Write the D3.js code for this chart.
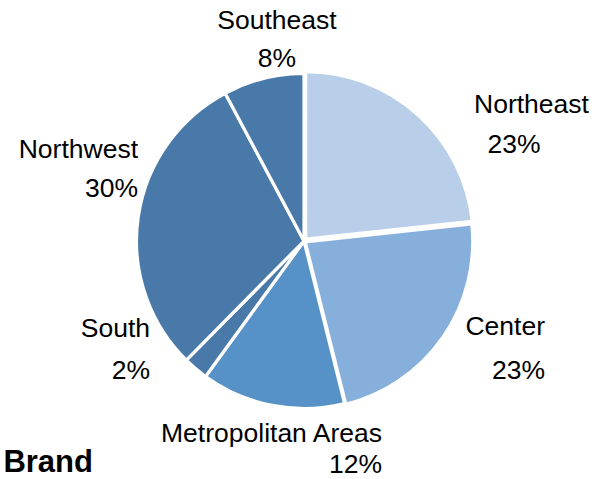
<!DOCTYPE html>
<html>
<head>
<meta charset="utf-8">
<script src="https://cdn.jsdelivr.net/npm/d3@7"></script>
<style>
  html, body { margin: 0; padding: 0; background: #fff; }
  svg { display: block; }
  text { font-family: "Liberation Sans", Arial, sans-serif; fill: #000; }
</style>
</head>
<body>
<svg id="chart" width="603" height="479"></svg>
<script>
// ---- data ----
const regions = ["Northeast", "Center", "Metropolitan Areas", "South", "Northwest", "Southeast"];
const shares = [23.3, 22.8, 13.9, 2.4, 29.8, 7.8];
const shareLabels = ["23%", "23%", "12%", "2%", "30%", "8%"];
const colors = ["#B9CEE8", "#86AFDC", "#5692C8", "#4879A9", "#4879A9", "#4879A9"];
const titleText = "Brand";

// ---- layout ----
const W = 603, H = 479;
const cx = 304, cy = 241, R = 167.5;
const explode = { "Northeast": 2.5, "Center": 1.5 };
// label anchor: [x, y baseline, anchor]
const labelLayout = {
  "Northeast": [[531.5, 113, "middle"], [514, 153, "middle"]],
  "Center": [[545, 335, "end"], [545, 379, "end"]],
  "Metropolitan Areas": [[382, 442, "end"], [382, 472.5, "end"]],
  "South": [[150, 337, "end"], [150, 379, "end"]],
  "Northwest": [[138, 158, "end"], [138, 197, "end"]],
  "Southeast": [[277, 29, "middle"], [277, 67, "middle"]]
};
const fontSize = 26.5;

const svg = d3.select("#chart");
const data = regions.map((r, i) => ({ region: r, value: shares[i], label: shareLabels[i], color: colors[i] }));

const pie = d3.pie().sort(null).value(d => d.value);
const arc = d3.arc().innerRadius(0).outerRadius(R);
const arcs = pie(data);

const g = svg.append("g").attr("transform", `translate(${cx},${cy})`);
g.selectAll("path").data(arcs).join("path")
  .attr("d", arc)
  .attr("fill", d => d.data.color)
  .attr("stroke", "#fff")
  .attr("stroke-width", 3.2)
  .attr("stroke-linejoin", "miter")
  .attr("transform", d => {
    const e = explode[d.data.region] || 0;
    const a = (d.startAngle + d.endAngle) / 2;
    return `translate(${e * Math.sin(a)},${-e * Math.cos(a)})`;
  });

// labels
const lg = svg.append("g");
arcs.forEach(d => {
  const lay = labelLayout[d.data.region];
  lg.append("text").attr("x", lay[0][0]).attr("y", lay[0][1])
    .attr("text-anchor", lay[0][2]).attr("font-size", fontSize).text(d.data.region);
  lg.append("text").attr("x", lay[1][0]).attr("y", lay[1][1])
    .attr("text-anchor", lay[1][2]).attr("font-size", fontSize).text(d.data.label);
});

// title (partly visible in the reference)
svg.append("text").attr("x", 93).attr("y", 471.5).attr("text-anchor", "end")
  .attr("font-size", 31).attr("font-weight", "bold").text(titleText);
</script>
</body>
</html>
